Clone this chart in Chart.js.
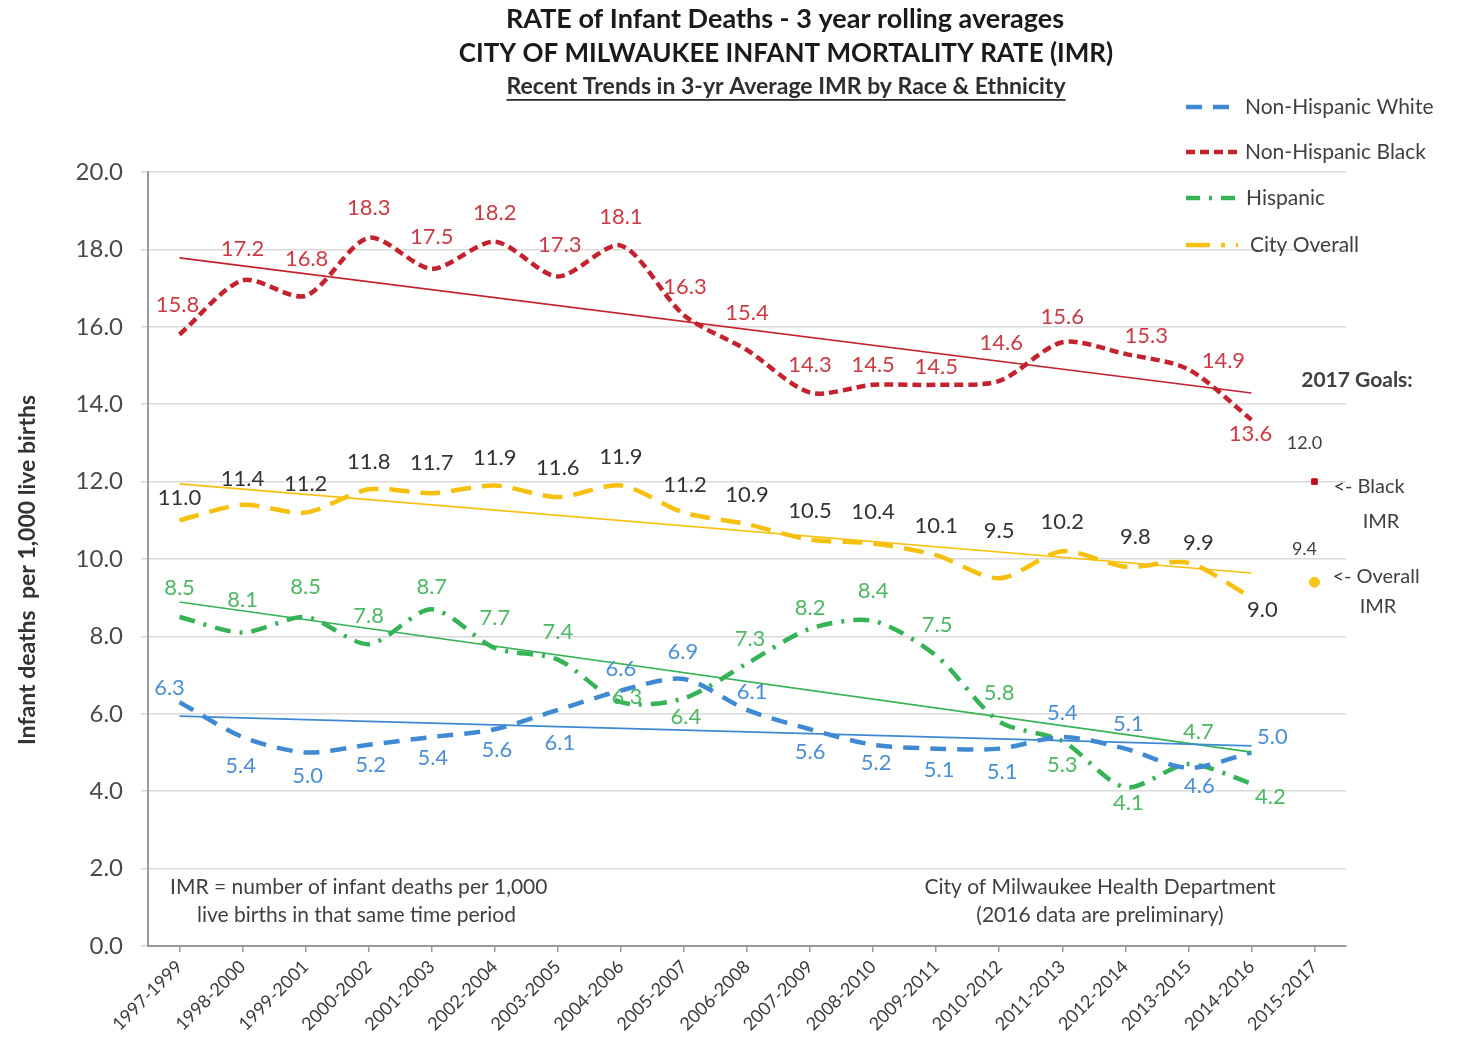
<!DOCTYPE html>
<html>
<head>
<meta charset="utf-8">
<script src="https://cdn.jsdelivr.net/npm/chart.js@4.4.1/dist/chart.umd.min.js"></script>
<style>
  html, body { margin: 0; padding: 0; background: #ffffff; }
  #wrap { position: relative; width: 1460px; height: 1041px; }
</style>
</head>
<body>
<div id="wrap"><canvas id="c" width="1460" height="1041"></canvas></div>
<script>
// ---------- DATA ----------
const categories = ['1997-1999','1998-2000','1999-2001','2000-2002','2001-2003','2002-2004','2003-2005','2004-2006','2005-2007','2006-2008','2007-2009','2008-2010','2009-2011','2010-2012','2011-2013','2012-2014','2013-2015','2014-2016','2015-2017'];
const whiteIMR    = [6.3, 5.4, 5.0, 5.2, 5.4, 5.6, 6.1, 6.6, 6.9, 6.1, 5.6, 5.2, 5.1, 5.1, 5.4, 5.1, 4.6, 5.0];
const blackIMR    = [15.8, 17.2, 16.8, 18.3, 17.5, 18.2, 17.3, 18.1, 16.3, 15.4, 14.3, 14.5, 14.5, 14.6, 15.6, 15.3, 14.9, 13.6];
const hispanicIMR = [8.5, 8.1, 8.5, 7.8, 8.7, 7.7, 7.4, 6.3, 6.4, 7.3, 8.2, 8.4, 7.5, 5.8, 5.3, 4.1, 4.7, 4.2];
const cityIMR     = [11.0, 11.4, 11.2, 11.8, 11.7, 11.9, 11.6, 11.9, 11.2, 10.9, 10.5, 10.4, 10.1, 9.5, 10.2, 9.8, 9.9, 9.0];
// trend line endpoints (start at first category, end at 2014-2016)
const trendWhite    = [5.94, 5.17];
const trendBlack    = [17.78, 14.29];
const trendHispanic = [8.89, 5.01];
const trendCity     = [11.94, 9.64];
// 2017 goals
const goalBlack   = 12.0;
const goalOverall = 9.4;
const yTicks = [0, 2, 4, 6, 8, 10, 12, 14, 16, 18, 20];

// ---------- STYLE ----------
const FONT = "Lato, 'Open Sans', 'Liberation Sans', sans-serif";
const C_WHITE = '#3f8ad2', C_BLACK = '#c4222e', C_HISP = '#35b356', C_CITY = '#f7c00e';
const L_WHITE = '#4a90d4', L_BLACK = '#cc3a44', L_HISP = '#4cb862', L_CITY = '#333333';

// label offsets (dx, dy) relative to each point
const offWhite = [[-10,-14],[-2,29],[2,23],[2,20],[1,21],[2,21],[2,33],[0,-22],[-1,-27],[5,-18],[0,23],[3,18],[3,21],[3,23],[0,-24],[3,-25],[11,18],[21,-16]];
const offBlack = [[-2,-30],[0,-31],[1,-37],[0,-30],[0,-32],[0,-29],[2,-32],[0,-29],[1,-28],[0,-37],[0,-28],[0,-20],[0,-18],[2,-38],[0,-25],[21,-18],[35,-8],[-1,14]];
const offHisp  = [[0,-29],[0,-33],[0,-30],[0,-28],[0,-22],[0,-30],[0,-28],[6,-5],[2,19],[3,-25],[0,-21],[0,-30],[1,-31],[0,-29],[0,24],[3,16],[10,-32],[19,13]];
const offCity  = [[0,-22],[0,-26],[0,-29],[0,-27],[0,-30],[0,-28],[0,-29],[0,-29],[1,-28],[0,-29],[0,-29],[0,-32],[0,-29],[0,-47],[0,-29],[10,-30],[10,-20],[11,12]];

const lastIdx = blackIMR.length - 1;
function trend(pair) {
  return [{x: categories[0], y: pair[0]}, {x: categories[lastIdx], y: pair[1]}];
}
function goal(v) {
  return [{x: categories[categories.length - 1], y: v}];
}

const lineBase = { fill: false, pointRadius: 0, pointHoverRadius: 0, borderWidth: 4.5, tension: 0.28, borderCapStyle: 'butt' };
const trendBase = { fill: false, pointRadius: 0, pointHoverRadius: 0, borderWidth: 1.6, tension: 0, spanGaps: true };

const datasets = [
  Object.assign({ label: 'trendWhite', data: trend(trendWhite), borderColor: C_WHITE }, trendBase),
  Object.assign({ label: 'trendBlack', data: trend(trendBlack), borderColor: C_BLACK }, trendBase),
  Object.assign({ label: 'trendHisp', data: trend(trendHispanic), borderColor: C_HISP }, trendBase),
  Object.assign({ label: 'trendCity', data: trend(trendCity), borderColor: C_CITY }, trendBase),
  Object.assign({ label: 'Non-Hispanic White', data: whiteIMR, borderColor: C_WHITE, borderDash: [16, 11] }, lineBase),
  Object.assign({ label: 'Non-Hispanic Black', data: blackIMR, borderColor: C_BLACK, borderDash: [9, 5] }, lineBase),
  Object.assign({ label: 'Hispanic', data: hispanicIMR, borderColor: C_HISP, borderDash: [16, 9, 3, 9] }, lineBase),
  Object.assign({ label: 'City Overall', data: cityIMR, borderColor: C_CITY, borderDash: [20, 11] }, lineBase),
  { label: 'goalBlack', data: goal(goalBlack), showLine: false, pointStyle: 'rect', pointRadius: 4, backgroundColor: '#c0101c', borderColor: '#c0101c' },
  { label: 'goalOverall', data: goal(goalOverall), showLine: false, pointStyle: 'circle', pointRadius: 5, backgroundColor: '#f5c518', borderColor: '#f5c518' }
];

const labelSets = [
  { data: whiteIMR, off: offWhite, color: L_WHITE },
  { data: blackIMR, off: offBlack, color: L_BLACK },
  { data: hispanicIMR, off: offHisp, color: L_HISP },
  { data: cityIMR, off: offCity, color: L_CITY }
];

const annotations = {
  id: 'annotations',
  afterDatasetsDraw(chart) {
    const ctx = chart.ctx;
    const xs = chart.scales.x, ys = chart.scales.y;
    ctx.save();
    ctx.textAlign = 'center';
    ctx.textBaseline = 'middle';
    ctx.font = '22px ' + FONT;
    labelSets.forEach(s => {
      ctx.fillStyle = s.color;
      s.data.forEach((v, i) => {
        const x = xs.getPixelForValue(i) + s.off[i][0];
        const y = ys.getPixelForValue(v) + s.off[i][1];
        ctx.fillText(v.toFixed(1), x, y);
      });
    });
    // goal labels
    const gx = xs.getPixelForValue(categories.length - 1);
    ctx.fillStyle = '#404040';
    ctx.font = '18px ' + FONT;
    ctx.fillText(goalBlack.toFixed(1), gx - 10, ys.getPixelForValue(goalBlack) - 38);
    ctx.fillText(goalOverall.toFixed(1), gx - 10, ys.getPixelForValue(goalOverall) - 33);
    ctx.font = '20px ' + FONT;
    ctx.fillStyle = '#404040';
    ctx.fillText('<- Black', 1369, 487);
    ctx.fillText('IMR', 1381, 522);
    ctx.fillText('<- Overall', 1376, 577);
    ctx.fillText('IMR', 1378, 607);
    ctx.font = 'bold 21px ' + FONT;
    ctx.fillText('2017 Goals:', 1357, 380);

    // titles
    ctx.fillStyle = '#1a1a1a';
    ctx.font = 'bold 27px ' + FONT;
    ctx.fillText('RATE of Infant Deaths - 3 year rolling averages', 785, 19);
    ctx.font = 'bold 26px ' + FONT;
    ctx.fillText('CITY OF MILWAUKEE INFANT MORTALITY RATE (IMR)', 786, 54);
    ctx.fillStyle = '#2e2e2e';
    ctx.font = 'bold 23px ' + FONT;
    const t3 = 'Recent Trends in 3-yr Average IMR by Race & Ethnicity';
    ctx.fillText(t3, 786, 87);
    const w3 = ctx.measureText(t3).width;
    ctx.fillRect(786 - w3 / 2, 99, w3, 1.8);

    // y-axis title
    ctx.save();
    ctx.translate(28, 570);
    ctx.rotate(-Math.PI / 2);
    ctx.font = 'bold 23px ' + FONT;
    ctx.fillStyle = '#333333';
    ctx.fillText('Infant deaths  per 1,000 live births', 0, 0);
    ctx.restore();

    // notes
    ctx.fillStyle = '#404040';
    ctx.font = '21px ' + FONT;
    ctx.textAlign = 'left';
    ctx.fillText('IMR = number of infant deaths per 1,000', 170, 887);
    ctx.fillText('live births in that same time period', 197, 915);
    ctx.textAlign = 'center';
    ctx.fillText('City of Milwaukee Health Department', 1100, 887);
    ctx.fillText('(2016 data are preliminary)', 1100, 915);

    // legend
    const leg = [
      { t: 'Non-Hispanic White', c: C_WHITE, d: [16, 11], y: 107, tx: 1245 },
      { t: 'Non-Hispanic Black', c: C_BLACK, d: [9, 5], y: 152, tx: 1245 },
      { t: 'Hispanic', c: C_HISP, d: [14, 9, 3, 9], y: 198, tx: 1246 },
      { t: 'City Overall', c: C_CITY, d: [24, 11, 4, 11], y: 245, tx: 1250 }
    ];
    leg.forEach(l => {
      ctx.strokeStyle = l.c;
      ctx.lineWidth = 4.5;
      ctx.setLineDash(l.d);
      ctx.beginPath();
      ctx.moveTo(1186, l.y);
      ctx.lineTo(1238, l.y);
      ctx.stroke();
      ctx.setLineDash([]);
      ctx.fillStyle = '#404040';
      ctx.font = '21px ' + FONT;
      ctx.textAlign = 'left';
      ctx.fillText(l.t, l.tx, l.y);
    });
    ctx.restore();
  }
};

new Chart(document.getElementById('c'), {
  type: 'line',
  data: { labels: categories, datasets: datasets },
  plugins: [annotations],
  options: {
    responsive: false,
    animation: false,
    events: [],
    layout: { padding: { top: 172, right: 114, left: 0, bottom: 0 } },
    plugins: { legend: { display: false }, title: { display: false }, tooltip: { enabled: false } },
    scales: {
      x: {
        type: 'category',
        offset: true,
        grid: { display: true, drawOnChartArea: false, offset: false, tickLength: 6, color: '#9a9a9a', lineWidth: 1.5 },
        border: { display: true, color: '#9a9a9a', width: 2 },
        ticks: { autoSkip: false, maxRotation: 45, minRotation: 45, color: '#3a3a3a', font: { family: FONT, size: 18 }, padding: 4 },
        afterFit(scale) { scale.height = 95; }
      },
      y: {
        min: 0, max: 20,
        afterBuildTicks(scale) { scale.ticks = yTicks.map(v => ({ value: v })); },
        grid: { color: '#dadada', lineWidth: 1.5, tickLength: 7, drawTicks: true },
        border: { display: true, color: '#9a9a9a', width: 2 },
        ticks: { color: '#4a4a4a', font: { family: FONT, size: 24 }, padding: 18, callback: v => Number(v).toFixed(1) },
        afterFit(scale) { scale.width = 148; }
      }
    }
  }
});
</script>
</body>
</html>
